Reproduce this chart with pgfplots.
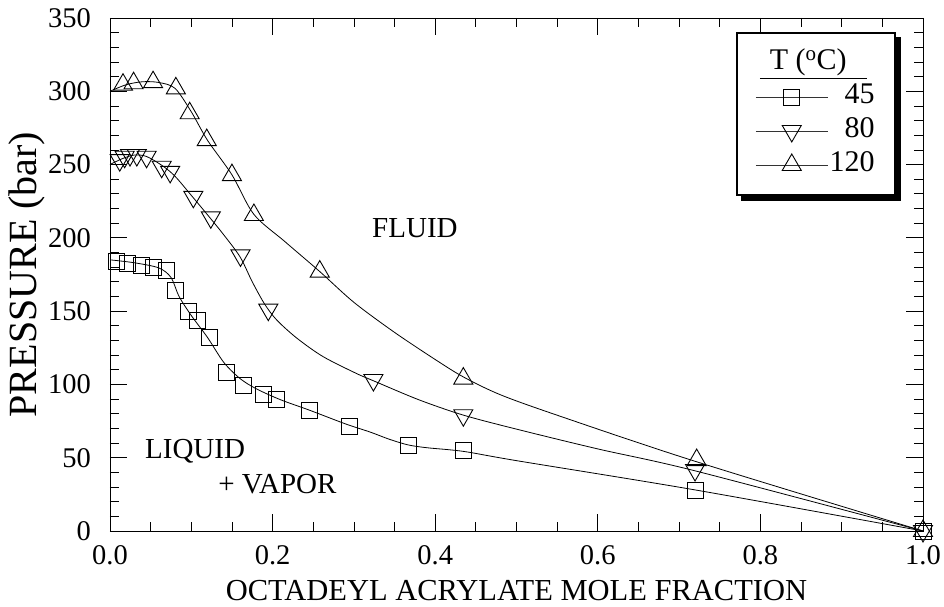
\documentclass[border=0pt]{standalone}
\usepackage{fontspec}
\setmainfont{Liberation Serif}
\usepackage{pgfplots}
\usepackage{pgfplotstable}
\pgfplotsset{compat=1.18}
\usetikzlibrary{backgrounds}

% ---- marker data ----
\pgfplotstableread{
x y
0.008 183.7
0.022 182.6
0.039 181.4
0.053 179.9
0.070 178.0
0.081 164.4
0.097 149.6
0.107 143.5
0.122 132.0
0.1435 108.0
0.164 99.6
0.1886 93.5
0.205 89.8
0.245 82.5
0.295 71.6
0.367 58.5
0.435 55.0
0.7196 28.0
1.0 0
}\mA
\pgfplotstableread{
x y
0.012 253
0.018 255.3
0.0246 256.5
0.033 256.5
0.045 255.3
0.0636 248.5
0.074 245
0.1025 228
0.124 214
0.1605 188
0.1947 151
0.324 103
0.4346 79
0.7196 41.6
1.0 0
}\mB
\pgfplotstableread{
x y
0.016 304.5
0.029 305.5
0.053 306.2
0.081 302
0.098 285
0.119 266.7
0.150 242.8
0.177 215.6
0.258 177
0.4346 104
0.7216 48.4
1.0 0
}\mC
% ---- curve data ----
\pgfplotstableread{
x y
0 185
0.03 183
0.06 179.5
0.075 173
0.085 160
0.1 147
0.12 132
0.14 115
0.16 104
0.18 97
0.21 89.5
0.245 82.5
0.29 73
0.32 67.5
0.344 62.5
0.367 58.7
0.39 56.8
0.435 54.3
0.5 48
0.72 28
1 0
}\lA
\pgfplotstableread{
x y
0 250
0.015 254
0.03 256.5
0.045 255.5
0.065 249
0.08 242
0.1 229
0.124 213
0.14 202
0.16 187
0.175 170
0.19 155
0.205 144
0.23 131.5
0.262 119
0.303 107.5
0.324 102.5
0.38 89.5
0.435 79
0.5 69.5
0.6 56
0.72 41
1 0
}\lB
\pgfplotstableread{
x y
0 300
0.02 304.5
0.04 306.5
0.06 306
0.08 302
0.1 286
0.12 266.5
0.15 243
0.177 216
0.215 197.5
0.258 177
0.3 156
0.35 135.5
0.4 117
0.435 105
0.48 93
0.55 79
0.72 47.5
1 0
}\lC

\begin{document}
\fontsize{29}{34}\selectfont
\begin{tikzpicture}
\begin{axis}[
  at={(0,0)}, anchor=south west,
  scale only axis, width=813pt, height=513pt,
  xmin=0, xmax=1, ymin=0, ymax=350,
  xtick={0,0.2,0.4,0.6,0.8,1.0},
  ytick={0,50,100,150,200,250,300,350},
  minor x tick num=3, minor y tick num=4,
  tick align=inside,
  major tick length=17pt, minor tick length=9pt,
  tick style={black, line width=0.8pt},
  axis line style={line width=0.9pt},
  /pgf/number format/assume math mode=true,
  tick label style={font=\fontsize{28.5}{34}\selectfont},
  xticklabel style={inner sep=0pt, yshift=-14pt, /pgf/number format/.cd, fixed, fixed zerofill, precision=1, assume math mode=true},
  yticklabel style={inner sep=0pt, xshift=-19pt},
  xlabel={OCTADEYL ACRYLATE MOLE FRACTION},
  ylabel={PRESSURE (bar)},
  xlabel style={at={(axis description cs:0.5,-0.0955)}, anchor=north, inner sep=0pt, font=\fontsize{30.5}{36}\selectfont},
  ylabel style={at={(axis description cs:-0.1021,0.5)}, anchor=center, inner sep=0pt, font=\fontsize{40}{46}\selectfont},
  legend style={name=leg, at={(axis cs:0.770,340.4)}, anchor=north west, draw=black, line width=1.8pt, fill=white,
    font=\fontsize{30}{36}\selectfont,
    inner xsep=18.5pt, inner ysep=15pt, row sep=4pt,
    nodes={inner xsep=1.5pt, inner ysep=2pt, text height=20pt, text depth=6pt}},
  legend cell align=right,
  legend image code/.code={\draw[mark repeat=2,mark phase=2,#1] plot coordinates {(0pt,0pt) (36pt,0pt) (72pt,0pt)};},
]
\addlegendimage{empty legend}
\addlegendentry{\makebox[0pt][r]{\underline{\hspace*{10pt}T (\textsuperscript{o}C)\hspace*{20pt}}\hspace*{8pt}}}
\addlegendimage{black!80, line width=0.7pt, mark=square, mark size=8pt, mark options={fill=white, line width=0.9pt, black}}
\addlegendentry{45}
\addlegendimage{black!80, line width=0.7pt, mark=triangle, mark size=11pt, mark options={fill=white, line width=0.9pt, black, rotate=180}}
\addlegendentry{80}
\addlegendimage{black!80, line width=0.7pt, mark=triangle, mark size=11pt, mark options={fill=white, line width=0.9pt, black}}
\addlegendentry{120}

\addplot[black, line width=0.8pt, smooth, tension=0.5, forget plot] table {\lA};
\addplot[black, line width=0.8pt, smooth, tension=0.5, forget plot] table {\lB};
\addplot[black, line width=0.8pt, smooth, tension=0.5, forget plot] table {\lC};
\addplot[only marks, mark=square, mark size=8pt, mark options={fill=white, line width=0.9pt, black}, forget plot] table {\mA};
\addplot[only marks, mark=triangle, mark size=11pt, mark options={fill=white, line width=0.9pt, black, rotate=180}, forget plot] table {\mB};
\addplot[only marks, mark=triangle, mark size=11pt, mark options={fill=white, line width=0.9pt, black}, forget plot] table {\mC};

\node[anchor=base west, inner sep=0pt] at (axis cs:0.3223,200.5) {FLUID};
\node[anchor=base west, inner sep=0pt] at (axis cs:0.043,49.8) {LIQUID};
\node[anchor=base west, inner sep=0pt] at (axis cs:0.133,25.9) {+ VAPOR};
\end{axis}
\begin{scope}[on background layer]
\fill[black] ([shift={(5pt,-5pt)}]leg.south west) rectangle ([shift={(5pt,-5pt)}]leg.north east);
\end{scope}
\pgfresetboundingbox
\path[use as bounding box] (-110pt,-76pt) rectangle (834pt,531pt);
\end{tikzpicture}
\end{document}
